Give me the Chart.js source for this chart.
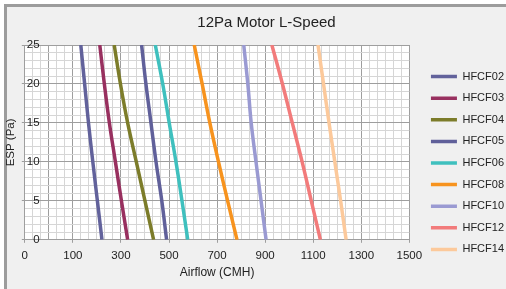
<!DOCTYPE html>
<html>
<head>
<meta charset="utf-8">
<script src="https://cdn.jsdelivr.net/npm/chart.js@4.4.1/dist/chart.umd.min.js"></script>
<style>
  html, body { margin: 0; padding: 0; background: #fff; overflow: hidden; width: 506px; height: 289px; }
  #frame { position: absolute; left: 4px; top: 4px; width: 600px; height: 400px;
           border-left: 3px solid #9c9c9c; border-top: 3px solid #9c9c9c; background: #f0f0f0; }
  #chart { position: absolute; left: 0; top: 0; }
</style>
</head>
<body>
<div id="frame"></div>
<canvas id="chart" width="506" height="289"></canvas>
<script>
// ESP (Pa) points, top to bottom
const espPa = [25, 20, 15, 10, 5, 0];

const models = ['HFCF02', 'HFCF03', 'HFCF04', 'HFCF05', 'HFCF06', 'HFCF08', 'HFCF10', 'HFCF12', 'HFCF14'];

// Airflow (CMH) at each ESP value above
const hfcf02 = [133, 149, 165, 183, 202, 221];
const hfcf03 = [212, 231, 252, 277, 302, 328];
const hfcf04 = [272, 298, 328, 364, 400, 436];
const hfcf05 = [386, 404, 425, 446, 470, 490];
const hfcf06 = [443, 474, 501, 529, 554, 578];
const hfcf08 = [605, 638, 670, 706, 744, 783];
const hfcf10 = [811, 828, 842, 862, 883, 904];
const hfcf12 = [928, 972, 1013, 1054, 1092, 1130];
const hfcf14 = [1120, 1143, 1166, 1190, 1214, 1237];

const airflow = [hfcf02, hfcf03, hfcf04, hfcf05, hfcf06, hfcf08, hfcf10, hfcf12, hfcf14];

// tick labels as printed on the chart
const xTickLabels = ['0', '100', '300', '500', '700', '900', '1100', '1300', '1500'];
const yTickLabels = ['0', '5', '10', '15', '20', '25'];

const colors = ['#62629b', '#98305f', '#7c7c2a', '#60609a', '#3fc0be', '#f7931e', '#9a9ad2', '#f27b7b', '#fcc99b'];

const MAJOR = '#9e9e9e';
const MINOR = '#d6d6d6';
const TEXT = '#222';

Chart.defaults.font.family = '"Liberation Sans", Arial, sans-serif';
Chart.defaults.color = TEXT;

// x grid: 6 minor steps between labelled values, plus one major line half way in the first step
const xMajor = i => i % 6 === 0 || i === 3;
const yMajor = v => v % 5 === 0;

const plotBg = {
  id: 'plotBg',
  beforeDraw(chart) {
    const { ctx, chartArea: a } = chart;
    ctx.save();
    ctx.fillStyle = '#ffffff';
    ctx.fillRect(a.left, a.top, a.width, a.height);
    ctx.restore();
  }
};

// the legend and title sit a little off the default spots in the original
const nudge = {
  id: 'nudge',
  afterLayout(chart) {
    chart.legend.left += 11;
    chart.legend.right += 11;
    chart.legend.top += 23;
    chart.legend.bottom += 23;
    chart.titleBlock.left += 13;
    chart.titleBlock.right += 13;
  }
};

const datasets = models.map((name, i) => ({
  label: name,
  data: espPa.map((p, j) => ({ x: airflow[i][j], y: p })),
  borderColor: colors[i],
  backgroundColor: colors[i],
  borderWidth: 3.5,
  pointRadius: 0,
  tension: 0.4,
  fill: false
}));

new Chart(document.getElementById('chart'), {
  type: 'line',
  data: { datasets },
  plugins: [plotBg, nudge],
  options: {
    responsive: false,
    animation: false,
    layout: { padding: { left: 4, right: 3, top: 0, bottom: 9 } },
    plugins: {
      title: {
        display: true,
        text: '12Pa Motor L-Speed',
        color: TEXT,
        font: { size: 15, weight: 'normal' },
        padding: { top: 14, bottom: 13 }
      },
      legend: {
        position: 'right',
        labels: {
          color: TEXT,
          font: { size: 11 },
          boxWidth: 26,
          boxHeight: 0,
          padding: 10.6
        }
      },
      tooltip: { enabled: false }
    },
    scales: {
      x: {
        type: 'linear',
        min: -100,
        max: 1500,
        afterBuildTicks: scale => {
          const t = [];
          for (let i = 0; i <= 48; i++) t.push({ value: -100 + i * 100 / 3 });
          scale.ticks = t;
        },
        ticks: {
          autoSkip: false,
          maxRotation: 0,
          padding: 6,
          font: { size: 11.5 },
          callback: (v, i) => (i % 6 === 0 ? xTickLabels[i / 6] : '')
        },
        grid: {
          color: c => (xMajor(c.index) ? MAJOR : MINOR),
          tickColor: c => (c.index % 6 === 0 ? MAJOR : 'rgba(0,0,0,0)'),
          tickLength: 3
        },
        border: { color: MAJOR },
        title: {
          display: true,
          text: 'Airflow (CMH)',
          font: { size: 12 },
          padding: { top: -3, bottom: 0 }
        }
      },
      y: {
        type: 'linear',
        min: 0,
        max: 25,
        afterBuildTicks: scale => {
          const t = [];
          for (let v = 0; v <= 25; v++) t.push({ value: v });
          scale.ticks = t;
        },
        ticks: {
          mirror: true,
          crossAlign: 'far',
          padding: 2,
          autoSkip: false,
          font: { size: 11.5 },
          callback: v => (yMajor(v) ? yTickLabels[v / 5] : '')
        },
        grid: {
          color: c => (c.tick && yMajor(c.tick.value) ? MAJOR : MINOR),
          tickColor: c => (c.tick && yMajor(c.tick.value) ? MAJOR : 'rgba(0,0,0,0)'),
          tickLength: 3
        },
        border: { color: MAJOR },
        title: {
          display: true,
          text: 'ESP (Pa)',
          font: { size: 11.5 },
          padding: 0
        }
      }
    }
  }
});
</script>
</body>
</html>
